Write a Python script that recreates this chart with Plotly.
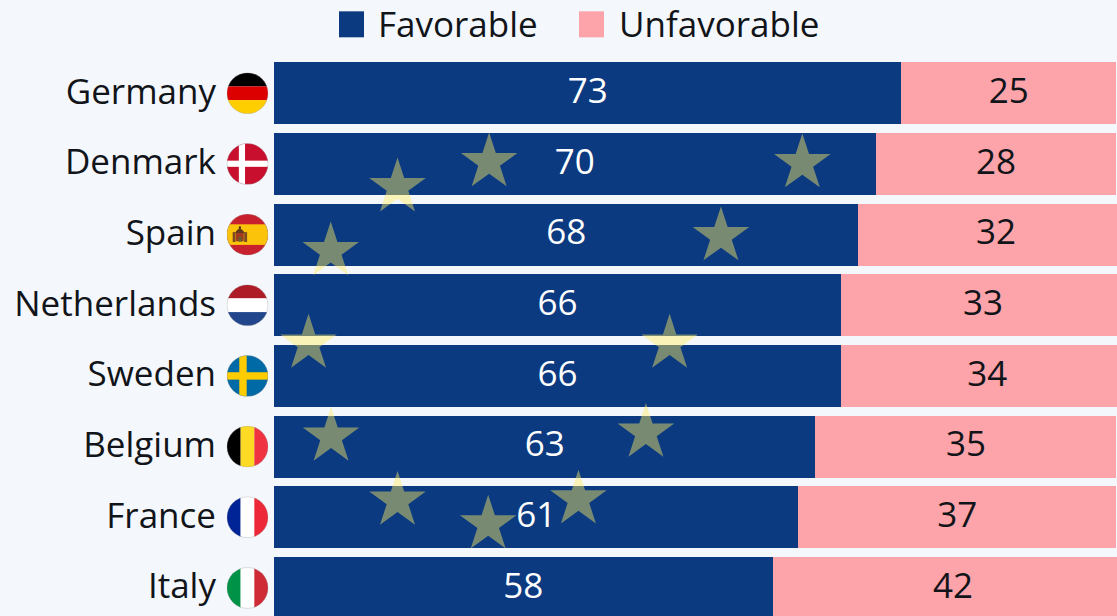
import base64
import plotly.graph_objects as go

countries = ["Germany", "Denmark", "Spain", "Netherlands", "Sweden", "Belgium", "France", "Italy"]
favorable = [73, 70, 68, 66, 66, 63, 61, 58]
unfavorable = [25, 28, 32, 33, 34, 35, 37, 42]

star_x = [25.03, 61.47, 14.37, 6.60, 52.00, 4.02, 46.03, 6.64, 43.27, 14.37, 35.42, 24.92]
star_y = [0.976, 0.990, 1.330, 2.235, 2.023, 3.542, 3.542, 4.859, 4.803, 5.764, 5.748, 6.102]

W, H = 1117, 616
L, T = 274, 57.7
FONT = "Open Sans"
BG = "#f4f7fb"
BLUE = "#0b3a80"
PINK = "#fda3aa"
INK = "#111418"
TXT = 35


def h3(a, b, c):
    return (f'<rect width="100" height="33.4" fill="{a}"/><rect y="33.3" width="100" height="33.4" fill="{b}"/>'
            f'<rect y="66.6" width="100" height="33.4" fill="{c}"/>')


def v3(a, b, c):
    return (f'<rect width="33.4" height="100" fill="{a}"/><rect x="33.3" width="33.4" height="100" fill="{b}"/>'
            f'<rect x="66.6" width="33.4" height="100" fill="{c}"/>')


spain = ('<rect width="100" height="100" fill="#c8202c"/><rect y="25" width="100" height="50" fill="#fcc30b"/>'
         '<rect x="14" y="44" width="7" height="24" fill="#7d4a22"/><rect x="42" y="44" width="7" height="24" fill="#7d4a22"/>'
         '<rect x="22" y="44" width="19" height="22" fill="#a33a20"/><rect x="27" y="56" width="10" height="11" fill="#6b5a2a"/>'
         '<path d="M20 46 Q31 26 43 46 Z" fill="#5f3a1c"/><rect x="29" y="30" width="5" height="6" fill="#4d2d14"/>')

flags = {
    "Germany": h3("#000000", "#dd0000", "#ffce00"),
    "Denmark": '<rect width="100" height="100" fill="#c8102e"/><rect x="29" width="15" height="100" fill="#fff"/><rect y="42" width="100" height="15" fill="#fff"/>',
    "Spain": spain,
    "Netherlands": h3("#ae1c28", "#ffffff", "#21468b"),
    "Sweden": '<rect width="100" height="100" fill="#006aa7"/><rect x="30" width="18" height="100" fill="#fecc00"/><rect y="41" width="100" height="18" fill="#fecc00"/>',
    "Belgium": v3("#000000", "#fdda24", "#ef3340"),
    "France": v3("#002395", "#ffffff", "#ed2939"),
    "Italy": v3("#009246", "#ffffff", "#ce2b37"),
}


def flag_uri(body):
    svg = ('<svg xmlns="http://www.w3.org/2000/svg" width="164" height="164" viewBox="-1 -1 102 102">'
           '<defs><clipPath id="c"><circle cx="50" cy="50" r="50"/></clipPath></defs>'
           f'<g clip-path="url(#c)">{body}</g>'
           '<circle cx="50" cy="50" r="49.6" fill="none" stroke="#9a9a9a" stroke-width="0.8"/></svg>')
    return "data:image/svg+xml;base64," + base64.b64encode(svg.encode()).decode()


PITCH = 70.7
FIRST = 93.0
UNIT = 8.595
LABEL_DROP = 1 / PITCH
y_top = -0.5
y_bot = y_top + (H - T) / PITCH
x_max = (W - L) / UNIT
plot_w, plot_h = W - L, H - T
rows = list(range(len(countries)))

fig = go.Figure()
fig.add_bar(y=countries, x=favorable, orientation="h", name="Favorable", marker=dict(color=BLUE, line_width=0),
            hoverinfo="x+y")
fig.add_bar(y=countries, x=unfavorable, orientation="h", name="Unfavorable", marker=dict(color=PINK, line_width=0),
            hoverinfo="x+y")
fig.add_scatter(x=star_x, y=star_y, yaxis="y2", mode="markers", cliponaxis=False, hoverinfo="skip", showlegend=False,
                marker=dict(symbol="star", size=42.5, color="rgba(255,238,100,0.45)", line_width=0))
fig.add_scatter(x=[f / 2 for f in favorable], y=[r + LABEL_DROP for r in rows], yaxis="y2", mode="text",
                text=favorable, textposition="middle center", cliponaxis=False, hoverinfo="skip", showlegend=False,
                textfont=dict(family=FONT, size=TXT, color="#ffffff"))
fig.add_scatter(x=[f + u / 2 for f, u in zip(favorable, unfavorable)], y=[r + LABEL_DROP for r in rows], yaxis="y2",
                mode="text", text=unfavorable, textposition="middle center", cliponaxis=False, hoverinfo="skip",
                showlegend=False, textfont=dict(family=FONT, size=TXT, color=INK))

images = []
for i, c in enumerate(countries):
    cy = FIRST + i * PITCH
    images.append(dict(source=flag_uri(flags[c]), xref="paper", yref="paper", layer="above",
                       x=(226.5 - L) / plot_w, y=(H - (cy - 21)) / plot_h,
                       sizex=42 / plot_w, sizey=42 / plot_h, xanchor="left", yanchor="top", sizing="stretch"))

shapes, annotations = [], []
for x0, color, label, tx in [(339, BLUE, "Favorable", 375.5), (579, PINK, "Unfavorable", 617)]:
    shapes.append(dict(type="rect", xref="paper", yref="paper", line_width=0, fillcolor=color,
                       x0=(x0 - L) / plot_w, x1=(x0 + 25 - L) / plot_w,
                       y0=(H - 37) / plot_h, y1=(H - 11) / plot_h))
    annotations.append(dict(text=label, xref="paper", yref="paper", showarrow=False, xanchor="left", yanchor="middle",
                            x=(tx - L) / plot_w, y=(H - 23) / plot_h,
                            font=dict(family=FONT, size=TXT, color=INK)))

fig.update_layout(
    width=W, height=H, autosize=False, barmode="stack", bargap=1 - 62 / PITCH, showlegend=False,
    paper_bgcolor=BG, plot_bgcolor=BG, margin=dict(l=L, r=0, t=T, b=0, pad=0),
    font=dict(family=FONT, color=INK),
    xaxis=dict(range=[0, x_max], visible=False, fixedrange=True),
    yaxis=dict(type="category", categoryorder="array", categoryarray=countries, range=[y_bot, y_top],
               showgrid=False, zeroline=False, showline=False, ticks="", ticklabelstandoff=57, ticklabelshift=2,
               tickfont=dict(family=FONT, size=TXT, color=INK), fixedrange=True),
    yaxis2=dict(overlaying="y", range=[y_bot, y_top], visible=False, fixedrange=True),
    images=images, shapes=shapes, annotations=annotations,
)

fig.write_html("out.html", config={"displayModeBar": False},
               post_script="document.body.style.margin='0';document.body.style.background='%s';" % BG)
